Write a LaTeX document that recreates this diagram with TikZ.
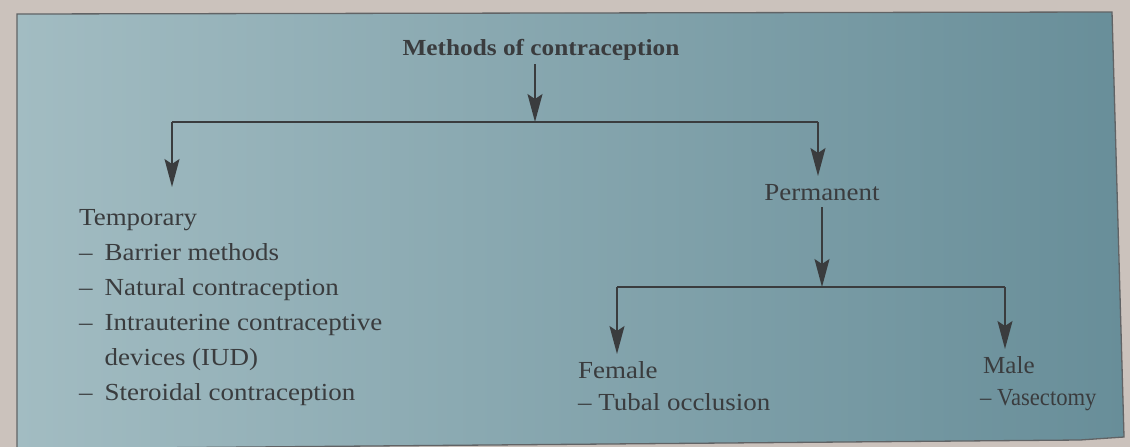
\documentclass[tikz,border=0pt]{standalone}
\usepackage{fontspec}
\setmainfont{Liberation Serif}[FakeStretch=1.1]
\usetikzlibrary{arrows.meta}
\definecolor{paper}{RGB}{203,194,188}
\definecolor{boxleft}{RGB}{162,188,194}
\definecolor{boxright}{RGB}{104,142,153}
\definecolor{ink}{RGB}{58,60,62}
\tikzset{
  lbl/.style={inner sep=0pt, text=ink, font=\fontsize{24.5}{35}\selectfont},
  ttl/.style={inner sep=0pt, text=ink, font=\fontsize{23}{30}\selectfont\bfseries},
  conn/.style={draw=ink, line width=1.5pt},
  arr/.style={conn, -{Stealth[length=28pt,width=15pt,inset=5pt]}},
}
\begin{document}
\begin{tikzpicture}[x=1pt,y=-1pt]
\useasboundingbox (0,0) rectangle (1130,447);
\fill[paper] (0,0) rectangle (1130,447);
\shade[left color=boxleft, right color=boxright, draw=ink!80, line width=1.3pt]
  (17,14) -- (1112,12) -- (1124,437) -- (1080,440) -- (17,449) -- cycle;

% texts
\node[ttl, anchor=base] (title) at (541,55) {Methods of contraception};
\node[lbl, anchor=base] (perm) at (822,200) {Permanent};
\node[lbl, anchor=north west, align=left] (temp) at (79,201)
  {\begin{tabular}{@{}l@{\hspace{12pt}}l@{}}
   \multicolumn{2}{@{}l@{}}{Temporary}\\
   – & Barrier methods\\
   – & Natural contraception\\
   – & Intrauterine contraceptive\\
     & devices (IUD)\\
   – & Steroidal contraception
   \end{tabular}};
\node[lbl, anchor=north west, align=left, font=\fontsize{24.5}{32}\selectfont] (female) at (578,361)
  {Female\\– Tubal occlusion};
\node[lbl, anchor=north west, align=left, font=\fontsize{24.5}{32}\selectfont] (male) at (980,356)
  {\hspace{3pt}\scalebox{0.93}[1]{Male}\\\scalebox{0.84}[1]{– Vasectomy}};

% junctions and arrow tips
\coordinate (j1) at (535,122);
\coordinate (lt) at (172,122);
\coordinate (rt) at (818,122);
\coordinate (tipTemp) at (172,187);
\coordinate (tipPerm) at (818,176);
\coordinate (j2) at (822,287);
\coordinate (lf) at (617,287);
\coordinate (rm) at (1005,287);
\coordinate (tipFem) at (617,354);
\coordinate (tipMale) at (1005,349);

% connectors
\draw[arr] (title.south -| j1) ++(0,4) -- (j1);
\draw[conn] (lt) -- (rt);
\draw[arr] (lt) -- (tipTemp);
\draw[arr] (rt) -- (tipPerm);
\draw[arr] (perm.south -| j2) ++(0,7) -- (j2);
\draw[conn] (lf) -- (rm);
\draw[arr] (lf) -- (tipFem);
\draw[arr] (rm) -- (tipMale);
\end{tikzpicture}
\end{document}
